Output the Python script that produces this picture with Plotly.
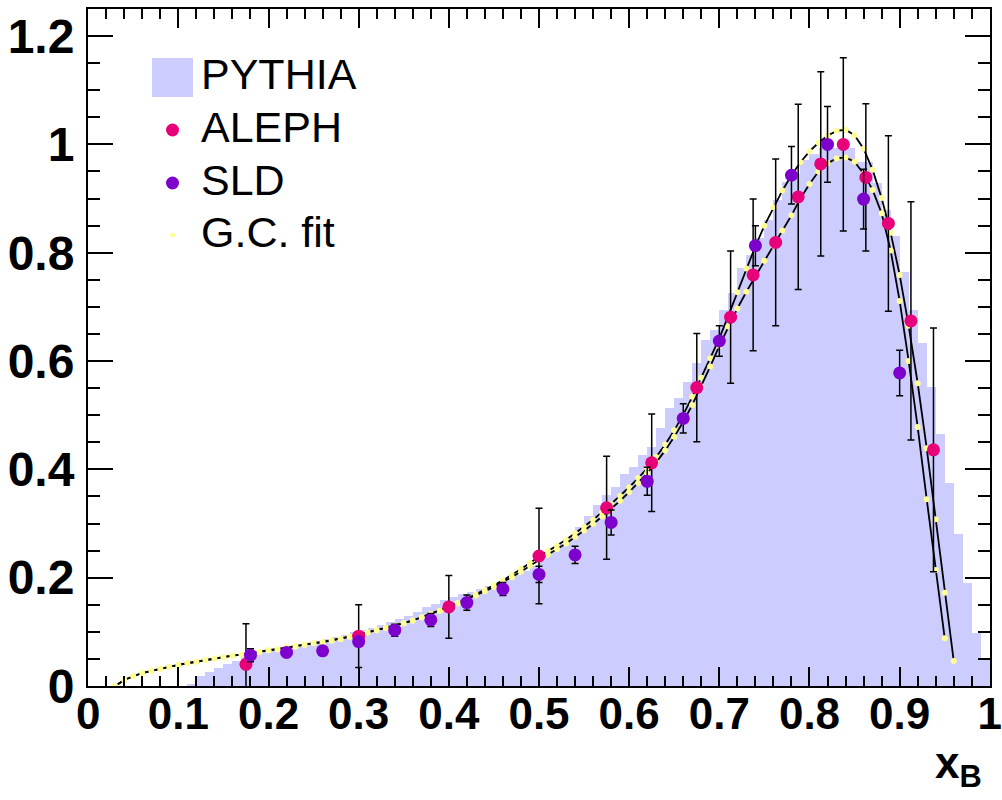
import plotly.graph_objects as go

# PYTHIA prediction, 0.01-wide bins starting at 0.11
pythia_lo_edge = [round(0.11 + 0.01 * i, 2) for i in range(89)]
pythia_val = [
    0.004, 0.019, 0.025, 0.034, 0.041, 0.047, 0.053, 0.058, 0.062,
    0.066, 0.070, 0.073, 0.076, 0.080, 0.083, 0.087, 0.091, 0.095, 0.100,
    0.104, 0.108, 0.113, 0.118, 0.123, 0.130, 0.137, 0.145, 0.152, 0.158,
    0.164, 0.169, 0.174, 0.179, 0.184, 0.191, 0.197, 0.205, 0.213, 0.222,
    0.236, 0.250, 0.262, 0.276, 0.294, 0.313, 0.334, 0.353, 0.368, 0.391,
    0.405, 0.426, 0.442, 0.476, 0.513, 0.531, 0.562, 0.596, 0.639, 0.658,
    0.694, 0.725, 0.771, 0.796, 0.828, 0.860, 0.897, 0.931, 0.946, 0.972,
    0.983, 0.993, 0.993, 0.993, 0.993, 0.968, 0.968, 0.929, 0.879, 0.831,
    0.765, 0.695, 0.633, 0.553, 0.465, 0.374, 0.280, 0.190, 0.098, 0.051,
]

# ALEPH measurement
aleph_x = [0.175, 0.300, 0.400, 0.500, 0.575, 0.625, 0.675, 0.7125, 0.7375,
           0.7625, 0.7875, 0.8125, 0.8375, 0.8625, 0.8875, 0.9125, 0.9375]
aleph_y = [0.040, 0.092, 0.146, 0.240, 0.329, 0.412, 0.551, 0.681, 0.759,
           0.819, 0.903, 0.964, 1.000, 0.939, 0.854, 0.674, 0.436]
aleph_err = [0.075, 0.058, 0.058, 0.088, 0.095, 0.090, 0.100, 0.122, 0.140,
             0.154, 0.171, 0.170, 0.160, 0.136, 0.162, 0.220, 0.225]

# SLD measurement
sld_x = [0.18, 0.22, 0.26, 0.30, 0.34, 0.38, 0.42, 0.46, 0.50, 0.54,
         0.58, 0.62, 0.66, 0.70, 0.74, 0.78, 0.82, 0.86, 0.90]
sld_y = [0.057, 0.062, 0.065, 0.082, 0.103, 0.122, 0.154, 0.179, 0.206, 0.242,
         0.302, 0.378, 0.494, 0.637, 0.813, 0.943, 1.000, 0.899, 0.578]
sld_err = [0.012, 0.004, 0.004, 0.006, 0.011, 0.012, 0.014, 0.012, 0.015, 0.016,
           0.023, 0.026, 0.027, 0.028, 0.037, 0.053, 0.070, 0.055, 0.042]

# G.C. fit: upper and lower curves, sampled every 0.01
fit_hi_x = [round(0.03 + 0.01 * i, 2) for i in range(94)]
fit_hi_y = [
    0.000, 0.011, 0.018, 0.024, 0.028, 0.032, 0.035, 0.039, 0.042, 0.045,
    0.048, 0.051, 0.053, 0.056, 0.058, 0.061, 0.063, 0.066, 0.068, 0.071,
    0.073, 0.076, 0.079, 0.081, 0.084, 0.087, 0.091, 0.095, 0.099, 0.103,
    0.107, 0.111, 0.116, 0.121, 0.127, 0.133, 0.139, 0.146, 0.153, 0.161,
    0.169, 0.177, 0.186, 0.195, 0.205, 0.216, 0.227, 0.239, 0.249, 0.259,
    0.270, 0.282, 0.294, 0.307, 0.321, 0.336, 0.351, 0.367, 0.384, 0.402,
    0.423, 0.446, 0.472, 0.501, 0.534, 0.569, 0.605, 0.642, 0.684, 0.727,
    0.771, 0.812, 0.850, 0.884, 0.915, 0.943, 0.967, 0.987, 1.003, 1.016,
    1.025, 1.027, 1.017, 0.992, 0.953, 0.901, 0.837, 0.759, 0.665, 0.559,
    0.439, 0.308, 0.172, 0.046,
]
fit_lo_x = [round(0.03 + 0.01 * i, 2) for i in range(93)]
fit_lo_y = [
    0.000, 0.011, 0.018, 0.024, 0.028, 0.032, 0.035, 0.039, 0.042, 0.045,
    0.048, 0.051, 0.053, 0.056, 0.058, 0.061, 0.063, 0.066, 0.068, 0.071,
    0.073, 0.076, 0.079, 0.081, 0.084, 0.087, 0.091, 0.095, 0.099, 0.103,
    0.107, 0.111, 0.116, 0.121, 0.127, 0.133, 0.139, 0.146, 0.153, 0.160,
    0.167, 0.175, 0.183, 0.192, 0.201, 0.211, 0.222, 0.233, 0.243, 0.253,
    0.263, 0.275, 0.287, 0.299, 0.313, 0.327, 0.342, 0.358, 0.375, 0.393,
    0.413, 0.435, 0.460, 0.488, 0.519, 0.553, 0.590, 0.628, 0.664, 0.697,
    0.728, 0.757, 0.785, 0.813, 0.841, 0.869, 0.900, 0.927, 0.950, 0.965,
    0.974, 0.976, 0.968, 0.946, 0.916, 0.873, 0.804, 0.711, 0.600, 0.478,
    0.345, 0.214, 0.088,
]

BIN_W = 0.01
PYTHIA_COLOR = "rgb(204,204,255)"
ALEPH_COLOR = "rgb(232,0,122)"
SLD_COLOR = "rgb(125,0,205)"
DOT_COLOR = "rgb(255,255,150)"

fig = go.Figure()

fig.add_trace(go.Bar(
    x=[e + BIN_W / 2 for e in pythia_lo_edge], y=pythia_val, width=BIN_W,
    marker=dict(color=PYTHIA_COLOR, line=dict(width=0)),
    name="PYTHIA", showlegend=False,
))

for fx, fy in ((fit_hi_x, fit_hi_y), (fit_lo_x, fit_lo_y)):
    fig.add_trace(go.Scatter(
        x=fx, y=fy, mode="lines+markers",
        line=dict(color="black", width=1.8),
        marker=dict(color=DOT_COLOR, size=6, line=dict(width=0)),
        name="G.C. fit", showlegend=False,
    ))

err_style = dict(type="data", thickness=1.5, width=3.5, color="black")
fig.add_trace(go.Scatter(
    x=aleph_x, y=aleph_y, mode="markers",
    error_y=dict(array=aleph_err, **err_style),
    marker=dict(color=ALEPH_COLOR, size=13, line=dict(width=0)),
    name="ALEPH", showlegend=False,
))
fig.add_trace(go.Scatter(
    x=sld_x, y=sld_y, mode="markers",
    error_y=dict(array=sld_err, **err_style),
    marker=dict(color=SLD_COLOR, size=13, line=dict(width=0)),
    name="SLD", showlegend=False,
))

# plot area in pixels: x 88..990, y 9..686
L, R, T, B = 88, 990, 9, 686
W, H = R - L, B - T


def px(xp):
    return (xp - L) / W


def py(yp):
    return (B - yp) / H


shapes = []
annotations = []

# hand-drawn legend
shapes.append(dict(type="rect", xref="paper", yref="paper",
                   x0=px(152), x1=px(193), y0=py(97), y1=py(58),
                   fillcolor=PYTHIA_COLOR, line=dict(width=0)))
for cy, col, d in ((130, ALEPH_COLOR, 13), (183, SLD_COLOR, 13), (235, DOT_COLOR, 5)):
    shapes.append(dict(type="circle", xref="paper", yref="paper",
                       x0=px(172.5 - d / 2), x1=px(172.5 + d / 2),
                       y0=py(cy + d / 2), y1=py(cy - d / 2),
                       fillcolor=col, line=dict(width=0)))
for cy, label in ((74, "PYTHIA"), (127, "ALEPH"), (180, "SLD"), (232, "G.C. fit")):
    annotations.append(dict(xref="paper", yref="paper", x=px(199), y=py(cy),
                            xanchor="left", yanchor="middle", showarrow=False,
                            text=label,
                            font=dict(family="Liberation Sans", size=43, color="black")))

# axis title
annotations.append(dict(xref="paper", yref="paper", x=px(984), y=py(766),
                        xanchor="right", yanchor="middle", showarrow=False,
                        text="<b>x</b><sub><b>B</b></sub>",
                        font=dict(family="Liberation Sans", size=44, color="black")))

fig.update_layout(
    width=1002, height=800,
    margin=dict(l=L, r=1002 - R, t=T, b=800 - B, autoexpand=False),
    paper_bgcolor="white", plot_bgcolor="white",
    bargap=0, barmode="overlay",
    showlegend=False,
    shapes=shapes, annotations=annotations,
)
fig.update_xaxes(
    range=[-0.0002, 1.0002], dtick=0.1, tick0=0, automargin=False,
    showline=True, linecolor="black", linewidth=2, mirror="allticks",
    ticks="inside", ticklen=19, tickwidth=1.5, tickcolor="black",
    minor=dict(dtick=0.02, ticks="inside", ticklen=10, tickwidth=1.5, tickcolor="black"),
    showgrid=False, zeroline=False,
    tickfont=dict(family="Liberation Sans", size=44, color="black", weight="bold"),
    ticklabelstandoff=-12, ticklabeloverflow="allow",
)
fig.update_yaxes(
    range=[0, 1.25], dtick=0.2, tick0=0, automargin=False,
    showline=True, linecolor="black", linewidth=2, mirror="allticks",
    ticks="inside", ticklen=25, tickwidth=1.5, tickcolor="black",
    minor=dict(dtick=0.05, ticks="inside", ticklen=12, tickwidth=1.5, tickcolor="black"),
    showgrid=False, zeroline=False,
    tickfont=dict(family="Liberation Sans", size=48, color="black", weight="bold"),
    ticklabelstandoff=2,
)

fig.write_html("out.html")
